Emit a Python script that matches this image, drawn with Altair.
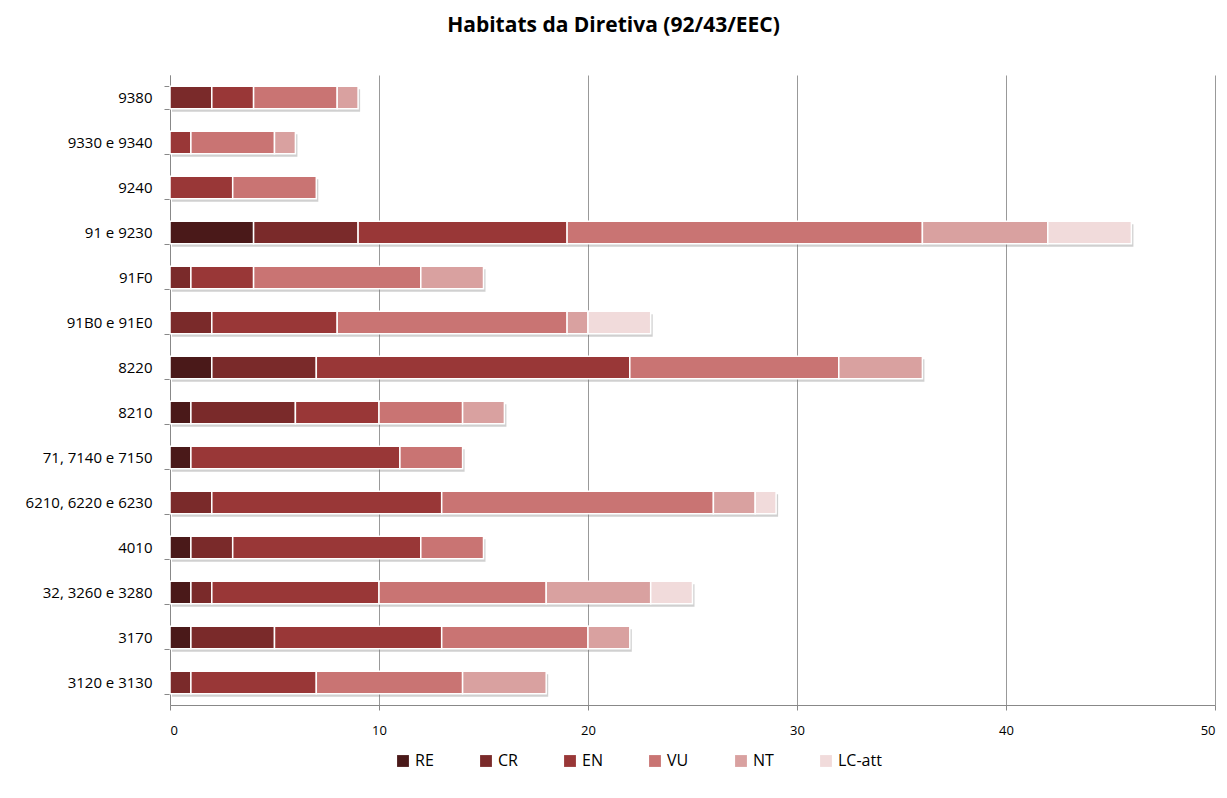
import altair as alt
import pandas as pd

habitats = ["9380", "9330 e 9340", "9240", "91 e 9230", "91F0", "91B0 e 91E0", "8220",
            "8210", "71, 7140 e 7150", "6210, 6220 e 6230", "4010", "32, 3260 e 3280",
            "3170", "3120 e 3130"]
categories = ["RE", "CR", "EN", "VU", "NT", "LC-att"]
colors = ["#4a1919", "#7a2a2a", "#993737", "#c97473", "#d9a1a0", "#f1dbdb"]

RE = [0, 0, 0, 4, 0, 0, 2, 1, 1, 0, 1, 1, 1, 0]
CR = [2, 0, 0, 5, 1, 2, 5, 5, 0, 2, 2, 1, 4, 1]
EN = [2, 1, 3, 10, 3, 6, 15, 4, 10, 11, 9, 8, 8, 6]
VU = [4, 4, 4, 17, 8, 11, 10, 4, 3, 13, 3, 8, 7, 7]
NT = [1, 1, 0, 6, 3, 1, 4, 2, 0, 2, 0, 5, 2, 4]
LC = [0, 0, 0, 4, 0, 3, 0, 0, 0, 1, 0, 2, 0, 0]

series = [RE, CR, EN, VU, NT, LC]
rows = []
for ci, (cat, vals) in enumerate(zip(categories, series)):
    for h, v in zip(habitats, vals):
        if v > 0:
            rows.append({"habitat": h, "cat": cat, "order": ci, "value": v})
df = pd.DataFrame(rows)
tot = pd.DataFrame({"habitat": habitats,
                    "total": [sum(s[i] for s in series) for i in range(len(habitats))]})

FONT = "Open Sans"
yenc = alt.Y("habitat:N", sort=habitats, title=None,
             scale=alt.Scale(paddingInner=0.5, paddingOuter=0.25),
             axis=alt.Axis(tickBand="extent", labelFontSize=15, labelColor="#000",
                           labelFont=FONT, labelPadding=12, domainColor="#888",
                           tickColor="#888", tickSize=6, grid=False))

shadow = alt.Chart(tot).mark_bar(color="#777", opacity=0.35, xOffset=2, yOffset=3).encode(
    x=alt.X("total:Q", scale=alt.Scale(domain=[0, 50])),
    y=yenc,
)

bars = alt.Chart(df).mark_bar(stroke="white", strokeWidth=1.5).encode(
    x=alt.X("sum(value):Q", stack="zero", title=None,
            scale=alt.Scale(domain=[0, 50]),
            axis=alt.Axis(values=[0, 10, 20, 30, 40, 50], grid=True, gridColor="#999",
                          labelFontSize=13, labelColor="#000", labelFont=FONT,
                          domainColor="#888", tickColor="#888", tickSize=5,
                          labelPadding=14)),
    y=yenc,
    color=alt.Color("cat:N", sort=categories,
                    scale=alt.Scale(domain=categories, range=colors),
                    legend=alt.Legend(title=None, orient="none", legendX=225, legendY=678,
                                      direction="horizontal",
                                      symbolType="square", symbolSize=140,
                                      symbolStrokeWidth=0, labelFontSize=16,
                                      labelFont=FONT, columnPadding=44)),
    order=alt.Order("order:Q"),
)

chart = alt.layer(shadow, bars).properties(
    width=1045, height=630,
    title=alt.TitleParams("Habitats da Diretiva (92/43/EEC)", font=FONT, fontSize=21,
                          fontWeight="bold", anchor="middle", offset=32, dx=-79),
    autosize=alt.AutoSizeParams(type="none"),
    padding={"left": 162, "top": 67, "right": 4, "bottom": 80},
).configure_view(stroke=None)

chart.save("out.html", embed_options={"renderer": "svg", "actions": False})
